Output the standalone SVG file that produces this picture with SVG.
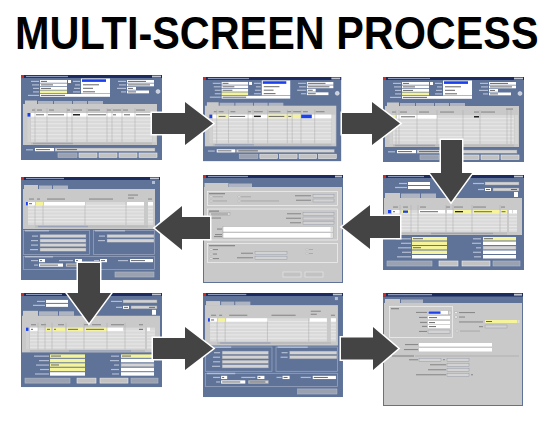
<svg xmlns="http://www.w3.org/2000/svg" width="557" height="424" viewBox="0 0 557 424">
<style>
.win{fill:#5f7399}
.tb{fill:#1d2b5e}
.ic{fill:#d42a1e}
.tt{fill:#8d9bc0}
.wb{fill:#c0c6d6}
.pn{fill:#c9c9c9}
.tab{fill:#aeb4c2}
.wf{fill:#ffffff}
.yf{fill:#f6f49a}
.gf{fill:#d3d3d3;stroke:#8c93a3;stroke-width:0.4}
.bf{fill:#1a40f0}
.cell{fill:#d9d9d9}
.gl{stroke:#f1f1f1;stroke-width:0.6;fill:none}
.cl{stroke:#a9a9a9;stroke-width:0.5;fill:none}
.btn{fill:#c2c2c2;stroke:#ececec;stroke-width:0.6}
.lb{fill:#b3bdd3}
.lbd{fill:#8a8a8a}
.tx{fill:#666666}
.dk{fill:#222222}
.frm{fill:none;stroke:#9eaac2;stroke-width:0.7}
.frm2{fill:none;stroke:#f3f3f3;stroke-width:0.7}
.rd{fill:#eeeeee;stroke:#999999;stroke-width:0.4}
.arr{fill:#444444;stroke:#ffffff;stroke-width:3;paint-order:stroke;stroke-linejoin:miter}
.title{font-family:"Liberation Sans",Arial,sans-serif;font-weight:bold;font-size:46px;fill:#000000}
</style>
<defs>
<g id="reqBase">
 <rect class="win" width="141" height="85"/>
 <rect class="tb" width="141" height="3"/>
 <rect class="ic" width="3" height="3"/>
 <rect class="tt" x="5" y="0.9" width="42" height="1.2"/>
 <rect class="wb" x="131" y="0.6" width="9" height="1.8"/>
 <g class="lb">
  <rect x="10" y="5.8" width="8" height="1.2"/><rect x="11" y="9.3" width="7" height="1.2"/><rect x="12" y="12.8" width="6" height="1.2"/><rect x="12" y="16.3" width="6" height="1.2"/><rect x="7" y="19.8" width="11" height="1.2"/>
  <rect x="52" y="5.8" width="7" height="1.2"/><rect x="54" y="9.3" width="5" height="1.2"/><rect x="53" y="12.8" width="6" height="1.2"/><rect x="52" y="16.3" width="7" height="1.2"/>
  <rect x="97" y="5.8" width="8" height="1.2"/><rect x="98" y="9.3" width="7" height="1.2"/><rect x="96" y="12.8" width="9" height="1.2"/><rect x="100" y="16.3" width="5" height="1.2"/>
 </g>
 <rect class="wf" x="19" y="5" width="27" height="2.8"/>
 <rect class="wf" x="19" y="8.5" width="27" height="2.8"/>
 <rect class="wf" x="19" y="12" width="27" height="2.8"/>
 <rect class="yf" x="19" y="15.5" width="27" height="2.8"/>
 <rect class="wf" x="19" y="19" width="70" height="2.8"/>
 <rect class="wf" x="47" y="5" width="3" height="3"/>
 <rect class="wf" x="60" y="3.5" width="29" height="15"/>
 <rect class="bf" x="61" y="4.3" width="24" height="2.6"/>
 <g class="tx"><rect x="20" y="5.9" width="6" height="1"/><rect x="20" y="9.4" width="12" height="1"/><rect x="20" y="12.9" width="10" height="1"/><rect x="20" y="19.9" width="24" height="1"/><rect x="62" y="9.3" width="16" height="1"/><rect x="62" y="12.8" width="10" height="1"/><rect x="62" y="16.3" width="12" height="1"/></g>
 <rect class="wf" x="106" y="5" width="27" height="2.8"/>
 <rect class="wf" x="106" y="8.5" width="27" height="2.8"/>
 <rect class="wf" x="106" y="12" width="9" height="2.8"/>
 <rect class="wf" x="106" y="15.5" width="22" height="2.8"/>
 <g class="tx"><rect x="107" y="5.9" width="18" height="1"/><rect x="107" y="9.4" width="22" height="1"/><rect x="107" y="12.9" width="5" height="1"/><rect x="107" y="16.4" width="8" height="1"/></g>
 <circle cx="137" cy="16.5" r="2" fill="#c9cfdc" stroke="#eef0f8" stroke-width="0.5"/>
 <rect class="tab" x="17" y="26" width="15" height="3.5"/>
 <rect class="tab" x="33" y="26" width="18" height="3.5"/>
 <rect class="tab" x="52" y="26" width="14" height="3.5"/>
 <rect class="tab" x="67" y="26" width="15" height="3.5"/>
 <rect class="pn" x="2" y="29" width="134" height="41"/>
 <rect class="pn" x="4" y="25.5" width="12" height="4"/>
 <rect class="cell" x="10" y="38" width="121" height="29"/>
 <path class="gl" d="M10 41.6H131M10 45.2H131M10 48.8H131M10 52.4H131M10 56H131M10 59.6H131M10 63.2H131"/>
 <rect x="6.5" y="38" width="3" height="29" fill="#d1d1d1"/>
 <rect x="131.5" y="38" width="3.5" height="29" fill="#d6d6d6"/>
 <rect x="10" y="67.5" width="121" height="2" fill="#bcbcbc"/>
 <rect x="12" y="67.8" width="40" height="1.4" fill="#9aa3b8"/>
 <rect class="lb" x="5" y="74.2" width="7" height="1.2"/>
 <rect class="wf" x="14" y="73" width="19" height="3.2"/>
 <rect class="gf" x="34" y="73" width="100" height="3.2"/>
 <rect class="tx" x="15" y="74.1" width="14" height="1"/>
 <rect class="tx" x="36" y="74.1" width="20" height="1"/>
 <rect class="btn" x="37" y="78" width="19" height="4.5" opacity="0.6"/>
 <rect class="btn" x="58" y="78" width="18" height="4.5"/>
 <rect class="btn" x="78" y="78" width="18" height="4.5"/>
 <rect class="btn" x="98" y="78" width="18" height="4.5"/>
 <rect class="btn" x="118" y="78" width="18" height="4.5"/>
</g>
<g id="distBase">
 <rect class="win" width="139" height="103"/>
 <rect class="tb" width="139" height="3"/>
 <rect class="ic" width="3" height="3"/>
 <rect class="tt" x="5" y="0.9" width="38" height="1.2"/>
 <rect class="wb" x="129" y="0.6" width="9" height="1.8"/>
 <rect class="lb" x="131" y="4" width="3" height="3"/>
 <rect class="tab" x="18" y="8.5" width="13" height="3.8"/>
 <rect class="tab" x="32" y="8.5" width="15" height="3.8"/>
 <rect class="pn" x="2" y="12" width="132" height="40"/>
 <rect class="pn" x="3" y="8" width="14" height="4.5"/>
 <g class="lbd"><rect x="8" y="21.5" width="5" height="1.1"/><rect x="16" y="21.5" width="3" height="1.1"/><rect x="26" y="21.5" width="18" height="1.1"/><rect x="68" y="21.5" width="24" height="1.1"/><rect x="107" y="17.5" width="10" height="1.1"/><rect x="107" y="20.5" width="6" height="1.1"/><rect x="127" y="21.5" width="4" height="1.1"/></g>
 <rect class="cell" x="7" y="25" width="116" height="23"/>
 <rect class="cell" x="127" y="25" width="5" height="23"/>
 <path class="gl" d="M7 28.3H123M7 31.6H123M7 34.9H123M7 38.2H123M7 41.5H123M7 44.8H123M127 28.3H132M127 31.6H132M127 34.9H132M127 38.2H132M127 41.5H132M127 44.8H132"/>
 <path class="cl" d="M14 25V48M22 25V48M64 25V48M105 25V48"/>
 <rect x="14" y="48.5" width="113" height="2" fill="#bcbcbc"/>
 <rect x="17" y="48.8" width="50" height="1.4" fill="#9aa3b8"/>
 <rect class="frm" x="2.5" y="53.5" width="66" height="24"/>
 <rect class="lb" x="4" y="53" width="24" height="1.4"/>
 <g class="lb"><rect x="11" y="58.5" width="6" height="1.2"/><rect x="10" y="63" width="7" height="1.2"/><rect x="10" y="67.5" width="7" height="1.2"/><rect x="9" y="72" width="8" height="1.2"/></g>
 <rect class="gf" x="19" y="57.5" width="46" height="3.2"/>
 <rect class="gf" x="19" y="62" width="46" height="3.2"/>
 <rect class="gf" x="19" y="66.5" width="46" height="3.2"/>
 <rect class="gf" x="19" y="71" width="46" height="3.2"/>
 <rect class="frm" x="72.5" y="53.5" width="61" height="24"/>
 <rect class="lb" x="74" y="53" width="30" height="1.4"/>
 <g class="lb"><rect x="78" y="58.5" width="6" height="1.2"/><rect x="77" y="63" width="7" height="1.2"/></g>
 <rect class="gf" x="86" y="57.5" width="47" height="3.2"/>
 <rect class="gf" x="86" y="62" width="47" height="3.2"/>
 <rect class="frm" x="2.5" y="79.5" width="131" height="13"/>
 <rect class="lb" x="4" y="79" width="28" height="1.4"/>
 <g class="lb"><rect x="10" y="83" width="7" height="1.2"/><rect x="13" y="87.5" width="4" height="1.2"/><rect x="38" y="83" width="14" height="1.2"/><rect x="73" y="83" width="5" height="1.2"/><rect x="97" y="83" width="10" height="1.2"/></g>
 <rect class="wf" x="18" y="82" width="6" height="3.2"/>
 <rect class="wf" x="54" y="82" width="7" height="3.2"/>
 <rect class="wf" x="79" y="82" width="7" height="3.2"/>
 <rect class="wf" x="109" y="82" width="23" height="3.2"/>
 <rect class="wf" x="18" y="86.5" width="24" height="3.2"/>
 <rect class="gf" x="45" y="86.5" width="20" height="3.2"/>
 <g class="tx"><rect x="19" y="83.1" width="2" height="1"/><rect x="55" y="83.1" width="2" height="1"/><rect x="80" y="83.1" width="4" height="1"/><rect x="110" y="83.1" width="14" height="1"/><rect x="19" y="87.6" width="18" height="1"/><rect x="46" y="87.6" width="16" height="1"/></g>
 <rect class="btn" x="94" y="95" width="39" height="5" opacity="0.6"/>
</g>
<g id="formBase">
 <rect class="win" width="141" height="95"/>
 <rect class="tb" width="141" height="3"/>
 <rect class="ic" width="3" height="3"/>
 <rect class="tt" x="5" y="0.9" width="36" height="1.2"/>
 <rect class="wb" x="131" y="0.6" width="9" height="1.8"/>
 <g class="lb"><rect x="16" y="7.9" width="8" height="1.2"/><rect x="12" y="11.9" width="12" height="1.2"/><rect x="90" y="7.9" width="11" height="1.2"/><rect x="95" y="13.9" width="6" height="1.2"/></g>
 <rect class="wf" x="25" y="7" width="22" height="3"/>
 <rect class="wf" x="25" y="11" width="22" height="3"/>
 <rect class="gf" x="102" y="7" width="34" height="3"/>
 <rect class="wf" x="102" y="13" width="6" height="3"/>
 <rect class="gf" x="110" y="13" width="26" height="3"/>
 <rect class="tx" x="103" y="14" width="4" height="1"/>
 <rect class="tx" x="128" y="14" width="6" height="1"/>
 <rect class="wf" x="131" y="17" width="4" height="5"/>
 <rect class="tab" x="18" y="18.5" width="19" height="4.5"/>
 <rect class="tab" x="38" y="18.5" width="15" height="4.5"/>
 <rect class="pn" x="1" y="23" width="138" height="37"/>
 <rect class="pn" x="2" y="18" width="15" height="5.5"/>
 <g class="lbd"><rect x="10" y="31.5" width="5" height="1.1"/><rect x="20" y="31.5" width="5" height="1.1"/><rect x="37" y="31.5" width="6" height="1.1"/><rect x="63" y="31.5" width="4" height="1.1"/><rect x="71" y="31.5" width="9" height="1.1"/><rect x="90" y="31.5" width="13" height="1.1"/><rect x="118" y="31.5" width="4" height="1.1"/></g>
 <rect class="cell" x="9" y="35" width="115" height="22"/>
 <rect class="cell" x="126" y="35" width="8" height="22"/>
 <path class="gl" d="M9 38.3H124M9 41.6H124M9 44.9H124M9 48.2H124M9 51.5H124M9 54.8H124M126 38.3H134M126 41.6H134M126 44.9H134M126 48.2H134M126 51.5H134M126 54.8H134"/>
 <rect x="5" y="35" width="3" height="22" fill="#d1d1d1"/>
 <rect x="9" y="57.5" width="115" height="2" fill="#bcbcbc"/>
 <rect x="48" y="57.8" width="62" height="1.4" fill="#9aa3b8"/>
 <g class="lb"><rect x="13" y="63.2" width="15" height="1.2"/><rect x="18" y="67.7" width="10" height="1.2"/><rect x="15" y="72.2" width="13" height="1.2"/><rect x="19" y="76.7" width="9" height="1.2"/><rect x="14" y="81.2" width="14" height="1.2"/><rect x="90" y="63.2" width="8" height="1.2"/><rect x="89" y="67.7" width="9" height="1.2"/><rect x="93" y="72.2" width="5" height="1.2"/><rect x="90" y="76.7" width="8" height="1.2"/><rect x="91" y="81.2" width="7" height="1.2"/></g>
 <rect class="yf" x="29" y="62" width="35" height="3.5"/>
 <rect class="yf" x="29" y="66.5" width="35" height="3.5"/>
 <rect class="yf" x="29" y="71" width="35" height="3.5"/>
 <rect class="yf" x="29" y="75.5" width="35" height="3.5"/>
 <rect class="wf" x="29" y="80" width="35" height="3.5"/>
 <rect class="yf" x="100" y="62" width="33" height="3.5"/>
 <rect class="wf" x="100" y="66.5" width="33" height="3.5"/>
 <rect class="gf" x="100" y="71" width="33" height="3.5"/>
 <rect class="wf" x="100" y="75.5" width="33" height="3.5"/>
 <rect class="wf" x="100" y="80" width="33" height="3.5"/>
 <g class="tx"><rect x="30" y="63.2" width="10" height="1"/><rect x="30" y="72.2" width="8" height="1"/><rect x="101" y="63.2" width="9" height="1"/></g>
 <rect class="btn" x="4" y="86" width="45" height="5" opacity="0.6"/>
 <rect class="btn" x="56" y="86" width="19" height="5"/>
 <rect class="btn" x="79" y="86" width="28" height="5"/>
 <rect class="btn" x="110" y="86" width="27" height="5" opacity="0.6"/>
</g>
</defs>

<rect width="557" height="424" fill="#ffffff"/>
<text class="title" x="16.7" y="49" transform="scale(0.9,1)">MULTI-SCREEN PROCESS</text>

<g id="screen1" transform="translate(21,75)">
 <use href="#reqBase"/>
 <g class="lbd"><rect x="11" y="34.5" width="3" height="1.1"/><rect x="16" y="34.5" width="5" height="1.1"/><rect x="28" y="34.5" width="5" height="1.1"/><rect x="46" y="34.5" width="3" height="1.1"/><rect x="52" y="34.5" width="9" height="1.1"/><rect x="67" y="34.5" width="12" height="1.1"/><rect x="86" y="34.5" width="4" height="1.1"/><rect x="92" y="34.5" width="8" height="1.1"/><rect x="102" y="34.5" width="5" height="1.1"/><rect x="115" y="34.5" width="9" height="1.1"/></g>
 <rect class="wf" x="10" y="38" width="121" height="3.6"/>
 <rect class="bf" x="6.5" y="38" width="2.8" height="3.6"/>
 <path class="cl" d="M14 33V67M26 33V67M46 33V67M51 33V67M66 33V67M86 33V67M91 33V67M101 33V67M114 33V67"/>
 <g class="tx"><rect x="15" y="39.3" width="8" height="1"/><rect x="27" y="39.3" width="16" height="1"/><rect x="67" y="39.3" width="18" height="1"/><rect x="92" y="39.3" width="3" height="1"/><rect x="103" y="39.3" width="6" height="1"/><rect x="115" y="39.3" width="14" height="1"/></g>
 <rect class="dk" x="52" y="39" width="7" height="1.5"/>
</g>

<g id="screen2" transform="translate(203,77) scale(0.98,0.99)">
 <use href="#reqBase"/>
 <g class="lbd"><rect x="11" y="34.5" width="3" height="1.1"/><rect x="16" y="34.5" width="5" height="1.1"/><rect x="28" y="34.5" width="5" height="1.1"/><rect x="46" y="34.5" width="3" height="1.1"/><rect x="52" y="34.5" width="9" height="1.1"/><rect x="67" y="34.5" width="12" height="1.1"/><rect x="86" y="34.5" width="4" height="1.1"/><rect x="92" y="34.5" width="8" height="1.1"/><rect x="102" y="34.5" width="5" height="1.1"/><rect x="115" y="34.5" width="9" height="1.1"/></g>
 <rect class="wf" x="10" y="38" width="121" height="3.6"/>
 <rect class="bf" x="6.5" y="38" width="2.8" height="3.6"/>
 <rect class="yf" x="15" y="38" width="11" height="3.6"/>
 <rect class="yf" x="66" y="38" width="20" height="3.6"/>
 <rect class="yf" x="86" y="38" width="14" height="3.6"/>
 <rect class="bf" x="100" y="38" width="11" height="3.6"/>
 <path class="cl" d="M14 33V67M26 33V67M46 33V67M51 33V67M66 33V67M86 33V67M91 33V67M100 33V67M114 33V67"/>
 <g class="tx"><rect x="16" y="39.3" width="7" height="1"/><rect x="27" y="39.3" width="16" height="1"/><rect x="67" y="39.3" width="16" height="1"/><rect x="87" y="39.3" width="3" height="1"/></g>
 <rect class="dk" x="52" y="39" width="7" height="1.5"/>
</g>

<g id="screen3" transform="translate(383,77)">
 <use href="#reqBase"/>
 <g class="lbd"><rect x="9" y="34.5" width="4" height="1.1"/><rect x="17" y="34.5" width="7" height="1.1"/><rect x="36" y="34.5" width="10" height="1.1"/><rect x="57" y="34.5" width="14" height="1.1"/><rect x="91" y="34.5" width="5" height="1.1"/><rect x="98" y="34.5" width="14" height="1.1"/><rect x="123" y="31.5" width="7" height="1.1"/></g>
 <rect class="yf" x="8" y="38" width="5" height="3.6"/>
 <rect class="wf" x="14" y="38" width="40" height="3.6"/>
 <path class="cl" d="M13 33V67M16 33V67M34 33V67M54 33V67M80 33V67M97 33V67M124 33V67M128 33V67"/>
 <rect class="tx" x="18" y="39.3" width="14" height="1"/>
 <rect class="dk" x="91" y="39" width="5" height="1.5"/>
</g>

<g id="screen4" transform="translate(21,177)">
 <use href="#distBase"/>
 <rect class="bf" x="5" y="25" width="1.8" height="3.3"/>
 <rect class="wf" x="7" y="25" width="7" height="3.3"/>
 <rect class="yf" x="15" y="25" width="7" height="3.3"/>
 <rect class="wf" x="23" y="25" width="41" height="3.3"/>
 <rect class="wf" x="106" y="25" width="17" height="3.3"/>
 <rect class="wf" x="127" y="25" width="5" height="3.3"/>
 <rect class="tx" x="8" y="26.2" width="3" height="1"/>
</g>

<g id="screen5" transform="translate(203,175)">
 <rect class="win" width="140" height="108"/>
 <rect class="tb" width="140" height="3"/>
 <rect class="ic" width="3" height="3"/>
 <rect class="tt" x="5" y="0.9" width="40" height="1.2"/>
 <rect class="wb" x="132" y="0.6" width="7" height="1.8"/>
 <rect class="tab" x="26" y="8.5" width="23" height="3.8"/>
 <rect class="pn" x="1" y="12" width="138" height="95"/>
 <rect class="pn" x="1.5" y="8" width="24" height="4.5"/>
 <rect class="frm2" x="4.5" y="16.5" width="130" height="14"/>
 <rect class="lbd" x="6" y="18" width="16" height="1.3"/>
 <circle class="rd" cx="8" cy="21.8" r="1.1"/><circle class="rd" cx="8" cy="26" r="1.1"/><circle class="rd" cx="36" cy="21.8" r="1.1"/><circle class="rd" cx="36" cy="26" r="1.1"/>
 <g fill="#ababab"><rect x="10" y="21.2" width="10" height="1.1"/><rect x="10" y="25.4" width="14" height="1.1"/><rect x="38" y="21.2" width="10" height="1.1"/><rect x="38" y="25.4" width="38" height="1.1"/></g>
 <g class="lbd"><rect x="92" y="20.2" width="16" height="1.1"/><rect x="93" y="24.7" width="15" height="1.1"/></g>
 <rect class="gf" x="110" y="19.5" width="21" height="3"/>
 <rect class="gf" x="110" y="24" width="21" height="3"/>
 <rect class="frm2" x="4.5" y="34" width="130" height="31"/>
 <rect class="lbd" x="6" y="35.5" width="10" height="1.3"/>
 <rect x="6" y="37.5" width="21" height="3" fill="#d8d8d8" stroke="#999999" stroke-width="0.4"/>
 <rect class="lbd" x="8" y="38.5" width="17" height="1"/>
 <rect class="lbd" x="8" y="42.5" width="10" height="1.1"/>
 <g class="lbd"><rect x="84" y="38.2" width="14" height="1.1"/><rect x="83" y="42.7" width="15" height="1.1"/><rect x="87" y="47.2" width="11" height="1.1"/><rect x="14" y="53.5" width="5" height="1.1"/><rect x="12" y="59" width="7" height="1.1"/><rect x="11" y="61" width="8" height="1.1"/></g>
 <rect class="gf" x="100" y="37.5" width="31" height="3"/>
 <rect class="gf" x="100" y="42" width="31" height="3"/>
 <rect class="gf" x="100" y="46.5" width="31" height="3"/>
 <rect class="wf" x="20" y="51.5" width="110" height="5.5" stroke="#999999" stroke-width="0.4"/>
 <rect class="wf" x="20" y="57.5" width="110" height="5.5" stroke="#999999" stroke-width="0.4"/>
 <rect x="127.5" y="51.8" width="2.2" height="4.9" fill="#dddddd"/>
 <rect x="127.5" y="57.8" width="2.2" height="4.9" fill="#dddddd"/>
 <rect class="frm2" x="4.5" y="68.5" width="130" height="19"/>
 <rect class="lbd" x="6" y="70" width="26" height="1.3"/>
 <circle class="rd" cx="8" cy="74.5" r="1.1"/><circle class="rd" cx="8" cy="79" r="1.1"/><circle class="rd" cx="8" cy="83.5" r="1.1"/>
 <g class="lbd"><rect x="10" y="74" width="5" height="1.1"/><rect x="10" y="78.5" width="4" height="1.1"/><rect x="10" y="83" width="6" height="1.1"/><rect x="38" y="77.7" width="12" height="1.1"/><rect x="34" y="82.2" width="16" height="1.1"/></g>
 <rect class="gf" x="52" y="76.7" width="32" height="3"/>
 <rect class="gf" x="52" y="81.2" width="32" height="3"/>
 <circle class="rd" cx="104" cy="74.5" r="1" opacity="0.6"/><circle class="rd" cx="104" cy="78.5" r="1" opacity="0.6"/>
 <g fill="#ababab"><rect x="106" y="74" width="4" height="1"/><rect x="106" y="78" width="4" height="1"/></g>
 <rect class="btn" x="80" y="97" width="18" height="5" stroke="#999999"/>
 <rect class="btn" x="102" y="97" width="18" height="5" stroke="#999999"/>
</g>

<g id="screen6" transform="translate(383,175)">
 <use href="#formBase"/>
 <rect class="bf" x="5" y="35" width="3" height="3.3"/>
 <rect class="wf" x="9" y="35" width="8" height="3.3"/>
 <rect class="yf" x="19" y="35" width="8" height="3.3"/>
 <rect class="bf" x="20" y="35.5" width="5" height="2.3"/>
 <rect class="wf" x="36" y="35" width="26" height="3.3"/>
 <rect class="wf" x="64" y="35" width="6" height="3.3"/>
 <rect class="yf" x="71" y="35" width="17" height="3.3"/>
 <rect class="yf" x="90" y="35" width="27" height="3.3"/>
 <rect class="yf" x="118" y="35" width="6" height="3.3"/>
 <rect class="wf" x="126" y="35" width="3" height="3.3"/>
 <rect class="wf" x="130" y="35" width="4" height="3.3"/>
 <path class="cl" d="M17 30V57M28 30V57M35 30V57M63 30V57M70 30V57M89 30V57M117 30V57"/>
 <g class="tx"><rect x="10" y="36.2" width="2" height="1"/><rect x="37" y="36.2" width="18" height="1"/><rect x="91" y="36.2" width="18" height="1"/><rect x="118.5" y="36.2" width="4" height="1"/></g>
 <rect class="dk" x="72" y="36" width="8" height="1.3"/>
</g>

<g id="screen7" transform="translate(21,293) scale(1,0.99)">
 <use href="#formBase"/>
 <rect class="bf" x="5" y="35" width="2.5" height="3.3"/>
 <rect class="wf" x="9" y="35" width="8" height="3.3"/>
 <rect class="yf" x="25" y="35" width="5" height="3.3"/>
 <rect class="yf" x="32" y="35" width="12" height="3.3"/>
 <rect class="yf" x="46" y="35" width="16" height="3.3"/>
 <rect class="yf" x="64" y="35" width="22" height="3.3"/>
 <rect class="wf" x="86" y="35" width="16" height="3.3"/>
 <rect class="wf" x="126" y="35" width="3" height="3.3"/>
 <path class="cl" d="M17 30V57M24 30V57M31 30V57M45 30V57M63 30V57M86 30V57M104 30V57"/>
 <g class="tx"><rect x="10" y="36.2" width="2" height="1"/><rect x="26" y="36.2" width="3" height="1"/><rect x="33" y="36.2" width="2" height="1"/><rect x="47" y="36.2" width="10" height="1"/><rect x="65" y="36.2" width="18" height="1"/><rect x="118" y="36.2" width="4" height="1"/></g>
</g>

<g id="screen8" transform="translate(203,293) scale(1.007,1.01)">
 <use href="#distBase"/>
 <rect class="bf" x="5" y="25" width="1.8" height="3.3"/>
 <rect class="wf" x="7" y="25" width="7" height="3.3"/>
 <rect class="yf" x="15" y="25" width="7" height="3.3"/>
 <rect class="wf" x="23" y="25" width="41" height="3.3"/>
 <rect class="wf" x="106" y="25" width="17" height="3.3"/>
 <rect class="wf" x="127" y="25" width="5" height="3.3"/>
 <rect class="tx" x="8" y="26.2" width="3" height="1"/>
</g>

<g id="screen9" transform="translate(383,293)">
 <rect class="win" width="140" height="113"/>
 <rect class="tb" width="140" height="3.5"/>
 <rect class="ic" width="3" height="3.5"/>
 <rect class="tt" x="5" y="1" width="44" height="1.3"/>
 <rect class="wb" x="131" y="0.7" width="8" height="1.9"/>
 <rect class="tab" x="18" y="6.5" width="22" height="3.8"/>
 <rect class="pn" x="1" y="10" width="138" height="102"/>
 <rect class="pn" x="2" y="6" width="15" height="4.5"/>
 <rect class="frm2" x="6.5" y="13.5" width="63" height="31"/>
 <rect class="lbd" x="8" y="15" width="8" height="1.3"/>
 <g class="lbd"><rect x="33" y="18.9" width="11" height="1.1"/><rect x="36" y="23.9" width="8" height="1.1"/><rect x="37" y="28.9" width="7" height="1.1"/><rect x="39" y="32.9" width="5" height="1.1"/><rect x="36" y="37.9" width="8" height="1.1"/></g>
 <rect class="wf" x="45" y="18" width="20" height="3.2"/>
 <rect class="bf" x="45.5" y="18.4" width="12" height="2.4"/>
 <rect x="65.5" y="18" width="2.5" height="3.2" fill="#dddddd" stroke="#999999" stroke-width="0.3"/>
 <rect class="wf" x="45" y="23" width="22" height="3.2"/>
 <rect class="wf" x="45" y="28" width="22" height="3.2"/>
 <rect class="wf" x="45" y="32" width="22" height="3.2"/>
 <rect class="gf" x="45" y="37" width="22" height="3.2"/>
 <g class="tx"><rect x="46" y="24.1" width="8" height="1"/><rect x="46" y="29.1" width="6" height="1"/><rect x="46" y="33.1" width="7" height="1"/></g>
 <rect class="wf" x="72" y="18.5" width="2" height="2" stroke="#888888" stroke-width="0.3"/>
 <rect class="wf" x="72" y="23" width="2" height="2" stroke="#888888" stroke-width="0.3"/>
 <g class="lbd"><rect x="76" y="19" width="16" height="1.1"/><rect x="76" y="23.5" width="6" height="1.1"/><rect x="76" y="28.4" width="24" height="1.1"/><rect x="96" y="33.1" width="4" height="1.1"/></g>
 <rect class="yf" x="102" y="27" width="32" height="3"/>
 <rect class="tx" x="103" y="28" width="6" height="1"/>
 <rect x="134.5" y="27" width="2" height="3" fill="#dddddd"/>
 <rect class="gf" x="102" y="32" width="22" height="3"/>
 <rect x="73" y="37" width="2" height="2" fill="#dddddd" stroke="#aaaaaa" stroke-width="0.3"/>
 <rect x="77" y="37.5" width="20" height="1.1" fill="#ababab"/>
 <g class="lbd"><rect x="22" y="51" width="13" height="1.1"/><rect x="21" y="56" width="14" height="1.1"/></g>
 <rect class="wf" x="36" y="50" width="73" height="3.5"/>
 <rect class="wf" x="36" y="55" width="73" height="3.5"/>
 <path d="M16 63H136" stroke="#9a9a9a" stroke-width="0.5"/>
 <rect x="8" y="61.8" width="24" height="2.4" fill="#c9c9c9"/>
 <rect class="lbd" x="9" y="62.4" width="22" height="1.2"/>
 <g class="lbd"><rect x="26" y="66.2" width="9" height="1.1"/><rect x="47" y="71.2" width="16" height="1.1"/><rect x="45" y="76.2" width="18" height="1.1"/><rect x="33" y="81.2" width="30" height="1.1"/></g>
 <rect class="gf" x="36" y="65.3" width="22" height="3"/>
 <rect class="lbd" x="60" y="66.2" width="2" height="1"/>
 <rect class="gf" x="64" y="65.3" width="22" height="3"/>
 <rect class="gf" x="64" y="70.3" width="22" height="3"/>
 <rect class="gf" x="64" y="75.3" width="22" height="3"/>
 <rect class="gf" x="64" y="80.3" width="22" height="3"/>
 <rect class="lbd" x="88" y="81.2" width="2" height="1.1"/>
</g>

<g id="connectors">
 <polygon class="arr" points="152,113 185,113 185,102 213,123.5 185,145 185,134 152,134"/>
 <polygon class="arr" points="342,113 372,113 372,102 400,123.5 372,145 372,134 342,134"/>
 <polygon class="arr" points="441,140 462,140 462,173 472,173 451,202 430,173 441,173"/>
 <polygon class="arr" points="400,216 370,216 370,205 342,227 370,249 370,238 400,238"/>
 <polygon class="arr" points="210,217 182,217 182,206 155,228 182,250 182,239 210,239"/>
 <polygon class="arr" points="78,263 100,263 100,293 111,293 89,323 67,293 78,293"/>
 <polygon class="arr" points="153,338 185,338 185,327 213,348.5 185,370 185,359 153,359"/>
 <polygon class="arr" points="341,337.5 373,337.5 373,327 398,348.5 373,370 373,359.5 341,359.5"/>
</g>
</svg>
